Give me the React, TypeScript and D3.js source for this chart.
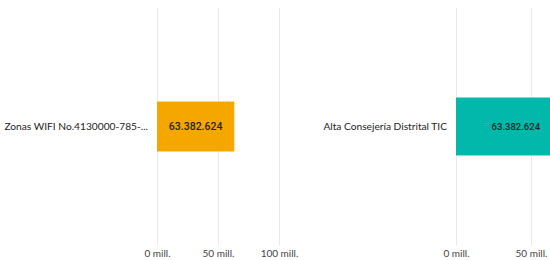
import { useEffect, useRef } from 'react';
import * as d3 from 'd3';

const leftCategories = ['Zonas WIFI No.4130000-785-...'];
const leftValues = [63382624];
const leftTicks = [0, 50e6, 100e6];

const rightCategories = ['Alta Consejería Distrital TIC'];
const rightValues = [63382624];
const rightTicks = [0, 50e6];

const width = 550;
const height = 260;
const gridTop = 8;
const gridBottom = 245;
const uiFont = '"Segoe UI", Lato, sans-serif';

const fmtTick = (v: number) => `${v / 1e6} mill.`;
const fmtValue = (v: number) => d3.format(',')(v).replace(/,/g, '.');

const App = () => {
  const ref = useRef<SVGSVGElement>(null);

  useEffect(() => {
    const svg = d3.select(ref.current);
    svg.selectAll('*').remove();

    const drawPanel = (opts: {
      cats: string[];
      vals: number[];
      ticks: number[];
      x0: number;
      x50: number;
      pad: number;
      color: string;
      labelSize: number;
      labelInside: 'center' | 'end';
    }) => {
      const x = d3.scaleLinear().domain([0, 50e6]).range([opts.x0, opts.x50]);
      const y = d3.scaleBand()
        .domain(opts.cats)
        .range([gridTop, gridBottom])
        .padding(opts.pad);

      const g = svg.append('g');

      // gridlines
      g.selectAll('line.grid')
        .data(opts.ticks)
        .join('line')
        .attr('x1', d => x(d) + 0.5)
        .attr('x2', d => x(d) + 0.5)
        .attr('y1', gridTop)
        .attr('y2', gridBottom)
        .attr('stroke', '#e9e9e9')
        .attr('stroke-width', 1);

      // tick labels
      g.selectAll('text.tick')
        .data(opts.ticks)
        .join('text')
        .attr('x', d => x(d) + 0.5)
        .attr('y', 257)
        .attr('text-anchor', 'middle')
        .attr('font-family', uiFont)
        .attr('font-size', 10)
        .attr('fill', '#444')
        .text(d => fmtTick(d));

      // bars
      g.selectAll('rect')
        .data(opts.cats)
        .join('rect')
        .attr('x', x(0))
        .attr('y', d => y(d)!)
        .attr('width', (_, i) => x(opts.vals[i]) - x(0))
        .attr('height', y.bandwidth())
        .attr('fill', opts.color);

      // category labels
      g.selectAll('text.cat')
        .data(opts.cats)
        .join('text')
        .attr('x', x(0) - 9)
        .attr('y', d => y(d)! + y.bandwidth() / 2)
        .attr('dy', '0.35em')
        .attr('text-anchor', 'end')
        .attr('font-family', uiFont)
        .attr('font-size', 10.2)
        .attr('fill', '#252423')
        .text(d => d);

      // data labels
      g.selectAll('text.val')
        .data(opts.cats)
        .join('text')
        .attr('x', (_, i) => opts.labelInside === 'center'
          ? (x(0) + x(opts.vals[i])) / 2
          : x(opts.vals[i]) - 11)
        .attr('y', d => y(d)! + y.bandwidth() / 2)
        .attr('dy', '0.35em')
        .attr('text-anchor', opts.labelInside === 'center' ? 'middle' : 'end')
        .attr('font-family', 'Roboto, sans-serif')
        .attr('font-weight', 500)
        .attr('font-size', opts.labelSize)
        .attr('fill', '#252423')
        .text((_, i) => fmtValue(opts.vals[i]));
    };

    drawPanel({
      cats: leftCategories, vals: leftValues, ticks: leftTicks,
      x0: 157, x50: 218, pad: 0.652, color: '#F5A700',
      labelSize: 10.5, labelInside: 'center',
    });
    drawPanel({
      cats: rightCategories, vals: rightValues, ticks: rightTicks,
      x0: 456, x50: 531, pad: 0.607, color: '#01B8AA',
      labelSize: 9.5, labelInside: 'end',
    });
  }, []);

  return (
    <svg
      ref={ref}
      width={width}
      height={height}
      viewBox={`0 0 ${width} ${height}`}
      style={{ position: 'fixed', left: 0, top: 0, background: '#fff' }}
    />
  );
};

export default App;
